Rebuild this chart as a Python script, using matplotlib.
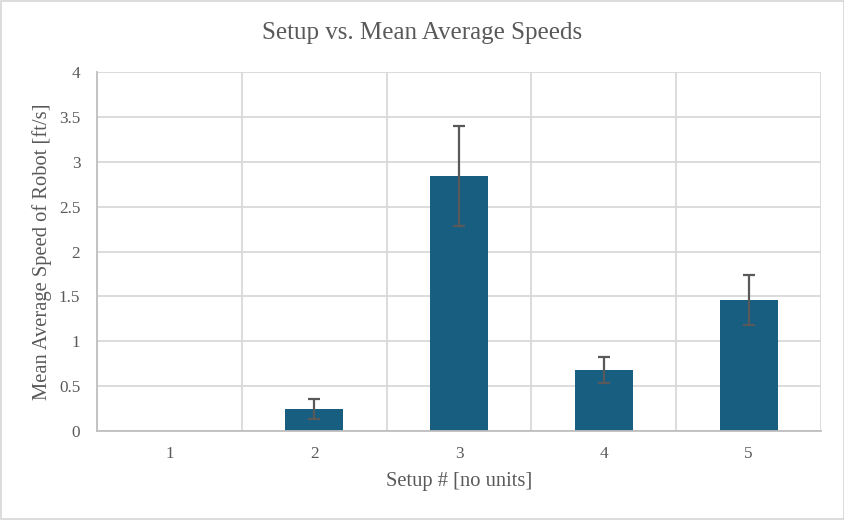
import numpy as np
import matplotlib.pyplot as plt
from matplotlib.patches import Rectangle

# values
setups = ["1", "2", "3", "4", "5"]
mean_speed = [0.0, 0.245, 2.84, 0.68, 1.46]
speed_err = [0.0, 0.115, 0.56, 0.147, 0.275]
y_ticks = [0, 0.5, 1, 1.5, 2, 2.5, 3, 3.5, 4]
y_tick_labels = ["0", "0.5", "1", "1.5", "2", "2.5", "3", "3.5", "4"]

plt.rcParams['font.family'] = ['Liberation Serif', 'DejaVu Serif']
grey_txt = "#595959"

fig = plt.figure(figsize=(8.45, 5.2), dpi=100)
ax = fig.add_axes([97/845, 1 - 431/520, 724/845, 359/520])

x = np.arange(len(setups))
ax.bar(x, mean_speed, width=0.4, color="#175e80", zorder=3)
# no error bar for setup 1 (zero bar)
ax.errorbar(x[1:], mean_speed[1:], yerr=speed_err[1:], fmt="none",
            ecolor=grey_txt, elinewidth=1.6, capsize=4, capthick=1.6, zorder=4)

ax.set_xlim(-0.5, len(setups) - 0.5)
ax.set_ylim(0, 4)
ax.set_yticks(y_ticks)
ax.set_yticklabels(y_tick_labels)
ax.set_xticks(x)
ax.set_xticklabels(setups)
ax.set_xticks(np.arange(len(setups) + 1) - 0.5, minor=True)

ax.grid(axis="y", which="major", color="#d9d9d9", linewidth=1.3, zorder=0)
ax.grid(axis="x", which="minor", color="#d9d9d9", linewidth=1.3, zorder=0)
ax.grid(axis="x", which="major", visible=False)
ax.tick_params(which="both", length=0, colors=grey_txt, labelsize=12.3)
ax.tick_params(axis="x", pad=11)
ax.tick_params(axis="y", pad=12)

for s in ["top", "right"]:
    ax.spines[s].set_visible(False)
for s in ["bottom", "left"]:
    ax.spines[s].set_color("#bfbfbf")
    ax.spines[s].set_linewidth(1.3)
    ax.spines[s].set_zorder(5)

ax.set_xlabel("Setup # [no units]", fontsize=14.8, color=grey_txt, labelpad=7)
ax.set_ylabel("Mean Average Speed of Robot [ft/s]", fontsize=14.8, color=grey_txt, labelpad=5)
fig.suptitle("Setup vs. Mean Average Speeds", fontsize=18, color=grey_txt, y=1 - 33/520, va="center")

# outer chart border
fig.patches.append(Rectangle((0.001, 0.001), 0.998, 0.998, transform=fig.transFigure,
                             fill=False, edgecolor="#d9d9d9", linewidth=1.3))

fig.savefig("out.png", dpi=100)
